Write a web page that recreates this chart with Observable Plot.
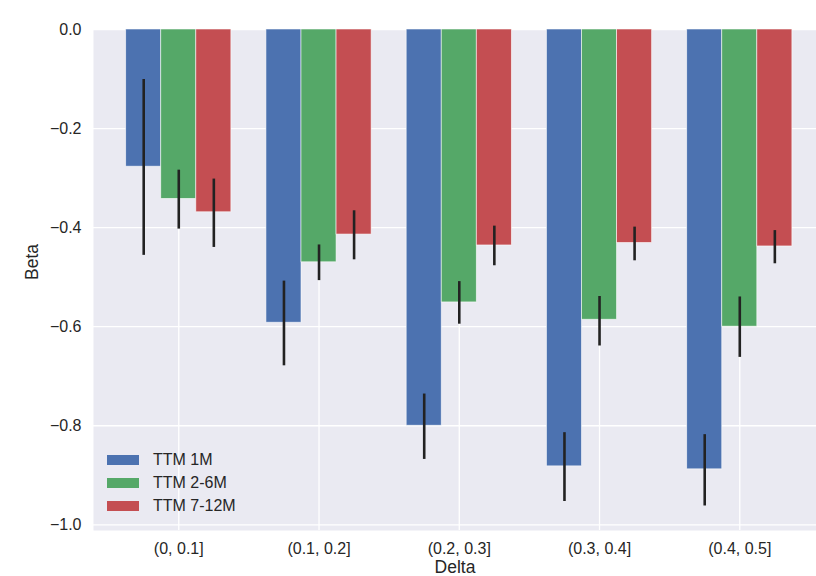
<!DOCTYPE html>
<html>
<head>
<meta charset="utf-8">
<script src="https://cdn.jsdelivr.net/npm/d3@7"></script>
<script src="https://cdn.jsdelivr.net/npm/@observablehq/plot@0.6"></script>
<style>
  html, body { margin: 0; padding: 0; background: #ffffff; }
  #chart { position: relative; width: 816px; height: 576px; font-family: "Liberation Sans", Arial, sans-serif; }
  #legend { position: absolute; left: 107px; top: 448px; color: #262626; font-size: 16px; }
  #legend .item { display: flex; align-items: center; height: 23.2px; }
  #legend .swatch { width: 32px; height: 10px; margin-right: 14px; }
</style>
</head>
<body>
<div id="chart"><div id="legend"></div></div>
<script>
// Delta buckets on the x axis
const categories = ["(0, 0.1]", "(0.1, 0.2]", "(0.2, 0.3]", "(0.3, 0.4]", "(0.4, 0.5]"];
// time-to-maturity groups
const series = ["TTM 1M", "TTM 2-6M", "TTM 7-12M"];
const colors = ["#4C72B0", "#55A868", "#C44E52"];

// mean beta per bucket
const beta1M   = [-0.277, -0.592, -0.800, -0.882, -0.888];
const beta2_6M = [-0.342, -0.470, -0.551, -0.586, -0.600];
const beta7_12M = [-0.369, -0.414, -0.436, -0.431, -0.438];

// confidence interval bounds
const hi1M   = [-0.101, -0.508, -0.736, -0.814, -0.818];
const lo1M   = [-0.456, -0.679, -0.868, -0.953, -0.962];
const hi2_6M = [-0.284, -0.435, -0.509, -0.539, -0.540];
const lo2_6M = [-0.403, -0.507, -0.595, -0.639, -0.662];
const hi7_12M = [-0.302, -0.366, -0.397, -0.399, -0.406];
const lo7_12M = [-0.440, -0.465, -0.477, -0.467, -0.473];

const yTicks = [0, -0.2, -0.4, -0.6, -0.8, -1.0];

const values = [beta1M, beta2_6M, beta7_12M];
const his = [hi1M, hi2_6M, hi7_12M];
const los = [lo1M, lo2_6M, lo7_12M];

// long table: one row per bar
const rows = [];
series.forEach((s, j) => {
  categories.forEach((c, i) => {
    rows.push({i, j, series: s, value: values[j][i], hi: his[j][i], lo: los[j][i]});
  });
});

const bw = 0.25; // bar width in category units
const center = d => d.i + (d.j - 1) * bw;

const ink = "#262626";
const font = "'Liberation Sans', Arial, sans-serif";

const plot = Plot.plot({
  width: 816,
  height: 576,
  marginLeft: 93,
  marginRight: 0,
  marginTop: 29,
  marginBottom: 46,
  style: {fontFamily: font, fontSize: "16px", color: ink, background: "transparent"},
  x: {type: "linear", domain: [-0.608, 4.547]},
  y: {domain: [-1.0115, 0]},
  color: {domain: series, range: colors},
  marks: [
    Plot.frame({fill: "#EAEAF2", stroke: null}),
    Plot.gridY(yTicks, {stroke: "white", strokeOpacity: 1, strokeWidth: 1.3}),
    Plot.gridX(d3.range(categories.length), {stroke: "white", strokeOpacity: 1, strokeWidth: 1.3}),
    Plot.rectY(rows, {
      x1: d => center(d) - bw / 2,
      x2: d => center(d) + bw / 2,
      y1: 0,
      y2: "value",
      fill: "series",
      stroke: "white",
      strokeOpacity: 0.7,
      strokeWidth: 0.8
    }),
    Plot.ruleX(rows, {x: center, y1: "lo", y2: "hi", stroke: "#222222", strokeWidth: 2.6}),
    Plot.axisY(yTicks, {
      tickSize: 0, tickPadding: 12, tickFormat: d3.format(".1f"),
      fontSize: 16, fill: ink, label: null
    }),
    Plot.axisX(d3.range(categories.length), {
      tickSize: 0, tickPadding: 12, tickFormat: i => categories[i],
      fontSize: 16, fill: ink, label: null
    }),
    Plot.text(["Delta"], {frameAnchor: "bottom", dy: 37, fontSize: 17.5, fill: ink, lineAnchor: "middle"}),
    Plot.text(["Beta"], {frameAnchor: "left", dx: -61, rotate: -90, fontSize: 17.5, fill: ink, lineAnchor: "middle"})
  ]
});

const chart = document.getElementById("chart");
chart.insertBefore(plot, chart.firstChild);

const legend = document.getElementById("legend");
series.forEach((s, j) => {
  const item = document.createElement("div");
  item.className = "item";
  const sw = document.createElement("span");
  sw.className = "swatch";
  sw.style.background = colors[j];
  const label = document.createElement("span");
  label.textContent = s;
  item.appendChild(sw);
  item.appendChild(label);
  legend.appendChild(item);
});
</script>
</body>
</html>
